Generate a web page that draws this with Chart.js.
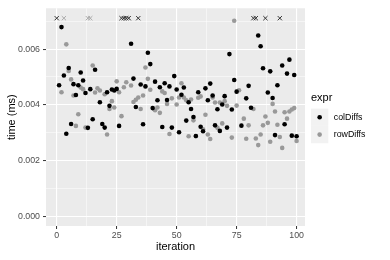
<!DOCTYPE html>
<html>
<head>
<meta charset="utf-8">
<script src="https://cdn.jsdelivr.net/npm/chart.js@4.4.1/dist/chart.umd.min.js"></script>
<style>
  html, body { margin: 0; padding: 0; background: #fff; }
  #wrap { width: 390px; height: 260px; position: relative; }
</style>
</head>
<body>
<div id="wrap"><canvas id="chart"></canvas></div>
<script>
// colDiffs (time in ms)
const colIter = [1, 2, 3, 4, 5, 6, 7, 8, 9, 10, 11, 12, 13, 14, 15, 16, 18, 19, 20, 21,
  22, 23, 24, 25, 26, 31, 32, 33, 35, 36, 37, 38, 39, 40, 41, 42, 43, 44, 45, 46,
  47, 48, 49, 50, 51, 52, 53, 54, 55, 56, 57, 58, 59, 60, 61, 62, 63, 64, 65, 66,
  67, 68, 69, 70, 71, 72, 73, 74, 75, 77, 79, 80, 81, 84, 85, 86, 88, 89, 90, 91,
  92, 94, 95, 96, 97, 98, 99, 100];
const colTime = [0.00470, 0.00679, 0.00505, 0.00296, 0.00532, 0.00331, 0.00474, 0.00435, 0.00470, 0.00516,
  0.00487, 0.00442, 0.00317, 0.00456, 0.00348, 0.00526, 0.00409, 0.00331, 0.00318, 0.00445,
  0.00396, 0.00455, 0.00451, 0.00457, 0.00324, 0.00619, 0.00494, 0.00392, 0.00473, 0.00330,
  0.00466, 0.00587, 0.00546, 0.00388, 0.00483, 0.00416, 0.00463, 0.00320, 0.00477, 0.00417,
  0.00466, 0.00318, 0.00503, 0.00455, 0.00301, 0.00436, 0.00462, 0.00343, 0.00409, 0.00385,
  0.00356, 0.00288, 0.00445, 0.00321, 0.00305, 0.00459, 0.00416, 0.00476, 0.00433, 0.00326,
  0.00384, 0.00306, 0.00401, 0.00431, 0.00318, 0.00582, 0.00383, 0.00489, 0.00447, 0.00325,
  0.00423, 0.00468, 0.00389, 0.00649, 0.00610, 0.00531, 0.00444, 0.00520, 0.00424, 0.00291,
  0.00470, 0.00541, 0.00330, 0.00512, 0.00562, 0.00289, 0.00507, 0.00287];

// rowDiffs
const rowIter = [2, 4, 5, 6, 7, 8, 9, 10, 11, 12, 15, 16, 17, 18, 20, 21, 22, 23, 24, 25,
  26, 27, 28, 29, 31, 32, 33, 34, 35, 36, 37, 38, 39, 41, 42, 43, 44, 45, 46, 47,
  48, 50, 51, 52, 53, 54, 55, 56, 57, 58, 59, 60, 61, 62, 63, 64, 65, 66, 67, 68,
  69, 70, 71, 73, 74, 75, 76, 78, 79, 80, 82, 83, 84, 85, 86, 87, 88, 89, 90, 91,
  92, 93, 94, 95, 96, 97, 98, 99, 100];
const rowTime = [0.00445, 0.00617, 0.00521, 0.00491, 0.00433, 0.00324, 0.00366, 0.00462, 0.00456, 0.00318,
  0.00541, 0.00444, 0.00459, 0.00451, 0.00438, 0.00293, 0.00385, 0.00413, 0.00390, 0.00484,
  0.00445, 0.00359, 0.00463, 0.00481, 0.00469, 0.00410, 0.00418, 0.00426, 0.00385, 0.00433,
  0.00534, 0.00493, 0.00454, 0.00380, 0.00390, 0.00371, 0.00448, 0.00442, 0.00403, 0.00295,
  0.00423, 0.00401, 0.00426, 0.00477, 0.00426, 0.00416, 0.00287, 0.00419, 0.00344, 0.00287,
  0.00425, 0.00430, 0.00312, 0.00364, 0.00293, 0.00277, 0.00426, 0.00408, 0.00317, 0.00408,
  0.00333, 0.00413, 0.00396, 0.00282, 0.00702, 0.00397, 0.00452, 0.00350, 0.00278, 0.00326,
  0.00385, 0.00279, 0.00255, 0.00293, 0.00326, 0.00358, 0.00335, 0.00267, 0.00403, 0.00376,
  0.00328, 0.00284, 0.00245, 0.00373, 0.00350, 0.00376, 0.00383, 0.00388, 0.00270];

// runs drawn as crosses along the top edge
const colOutIter = [0, 27, 28, 29, 30, 34, 82, 83, 87, 93];
const colOutTime = [0.00711, 0.00711, 0.00711, 0.00711, 0.00711, 0.00711, 0.00711, 0.00711, 0.00711, 0.00711];
const rowOutIter = [3, 13, 14, 30];
const rowOutTime = [0.00711, 0.00711, 0.00711, 0.00711];

const exprNames = ["colDiffs", "rowDiffs"];
const exprColors = ["#000000", "#999999"];

const FONT = '"Liberation Sans", Arial, sans-serif';

const pts = (xs, ys) => xs.map((x, i) => ({ x: x, y: ys[i] }));

const panelBg = {
  id: "panelBg",
  beforeDraw(chart) {
    const { ctx, chartArea: a } = chart;
    ctx.save();
    ctx.fillStyle = "#EBEBEB";
    ctx.fillRect(a.left, a.top, a.right - a.left, a.bottom - a.top);
    ctx.restore();
  }
};

// ggplot style legend on the right
const exprLegend = {
  id: "exprLegend",
  afterDraw(chart) {
    const { ctx, chartArea: a } = chart;
    const mid = (a.top + a.bottom) / 2;
    const keyX = 311, key = 17.3;
    ctx.save();
    ctx.textAlign = "left";
    ctx.textBaseline = "middle";
    ctx.fillStyle = "#000";
    ctx.font = "11px " + FONT;
    ctx.fillText("expr", keyX, mid - 19);
    exprNames.forEach((name, i) => {
      const top = mid - 8.5 + i * key;
      ctx.fillStyle = "#F2F2F2";
      ctx.fillRect(keyX, top, key, key);
      ctx.fillStyle = exprColors[i];
      ctx.beginPath();
      ctx.arc(keyX + key / 2, top + key / 2, 2.3, 0, Math.PI * 2);
      ctx.fill();
      ctx.fillStyle = "#000";
      ctx.font = "8.8px " + FONT;
      ctx.fillText(name, keyX + key + 5.5, top + key / 2);
    });
    ctx.restore();
  }
};

const isMajorX = v => Math.abs(v % 25) < 1e-9;
const isMajorY = v => Math.round(v * 1000) % 2 === 0;

new Chart(document.getElementById("chart"), {
  type: "scatter",
  data: {
    datasets: [
      {
        label: exprNames[0],
        data: pts(colIter, colTime),
        pointRadius: 2.3,
        pointBorderWidth: 0,
        pointBackgroundColor: exprColors[0]
      },
      {
        label: exprNames[1],
        data: pts(rowIter, rowTime),
        pointRadius: 2.3,
        pointBorderWidth: 0,
        pointBackgroundColor: exprColors[1]
      },
      {
        label: exprNames[0] + " top",
        data: pts(colOutIter, colOutTime),
        pointStyle: "crossRot",
        pointRadius: 3,
        pointBorderWidth: 1,
        pointBorderColor: "#333333"
      },
      {
        label: exprNames[1] + " top",
        data: pts(rowOutIter, rowOutTime),
        pointStyle: "crossRot",
        pointRadius: 3,
        pointBorderWidth: 1,
        pointBorderColor: "#AAAAAA"
      }
    ]
  },
  options: {
    responsive: true,
    maintainAspectRatio: false,
    animation: false,
    devicePixelRatio: 1,
    layout: { padding: { top: 4, right: 85, left: 0, bottom: 0 } },
    plugins: {
      legend: { display: false },
      tooltip: { enabled: false }
    },
    scales: {
      x: {
        type: "linear",
        min: -4.46,
        max: 103.5,
        afterFit(s) { s.height = 34; },
        border: { display: false },
        grid: {
          color: "#FFFFFF",
          lineWidth: c => (c.tick && isMajorX(c.tick.value) ? 1.1 : 0.5),
          tickColor: c => (c.tick && isMajorX(c.tick.value) ? "#333333" : "rgba(0,0,0,0)"),
          tickLength: 3,
          tickWidth: 1
        },
        ticks: {
          stepSize: 12.5,
          includeBounds: false,
          autoSkip: false,
          maxRotation: 0,
          padding: 1,
          color: "#4D4D4D",
          font: { family: FONT, size: 8.8 },
          callback: v => (isMajorX(v) ? String(v) : "")
        },
        title: {
          display: true,
          text: "iteration",
          color: "#000",
          font: { family: FONT, size: 11 },
          padding: { top: 0, bottom: 6 }
        }
      },
      y: {
        min: -0.000356,
        max: 0.007466,
        afterFit(s) { s.width = 46; },
        border: { display: false },
        grid: {
          color: "#FFFFFF",
          lineWidth: c => (c.tick && isMajorY(c.tick.value) ? 1.1 : 0.5),
          tickColor: c => (c.tick && isMajorY(c.tick.value) ? "#333333" : "rgba(0,0,0,0)"),
          tickLength: 3,
          tickWidth: 1
        },
        ticks: {
          stepSize: 0.001,
          includeBounds: false,
          padding: 3,
          color: "#4D4D4D",
          font: { family: FONT, size: 8.8 },
          callback: v => (isMajorY(v) ? v.toFixed(3) : "")
        },
        title: {
          display: true,
          text: "time (ms)",
          color: "#000",
          font: { family: FONT, size: 11 },
          padding: { top: 5, bottom: 0 }
        }
      }
    }
  },
  plugins: [panelBg, exprLegend]
});
</script>
</body>
</html>
